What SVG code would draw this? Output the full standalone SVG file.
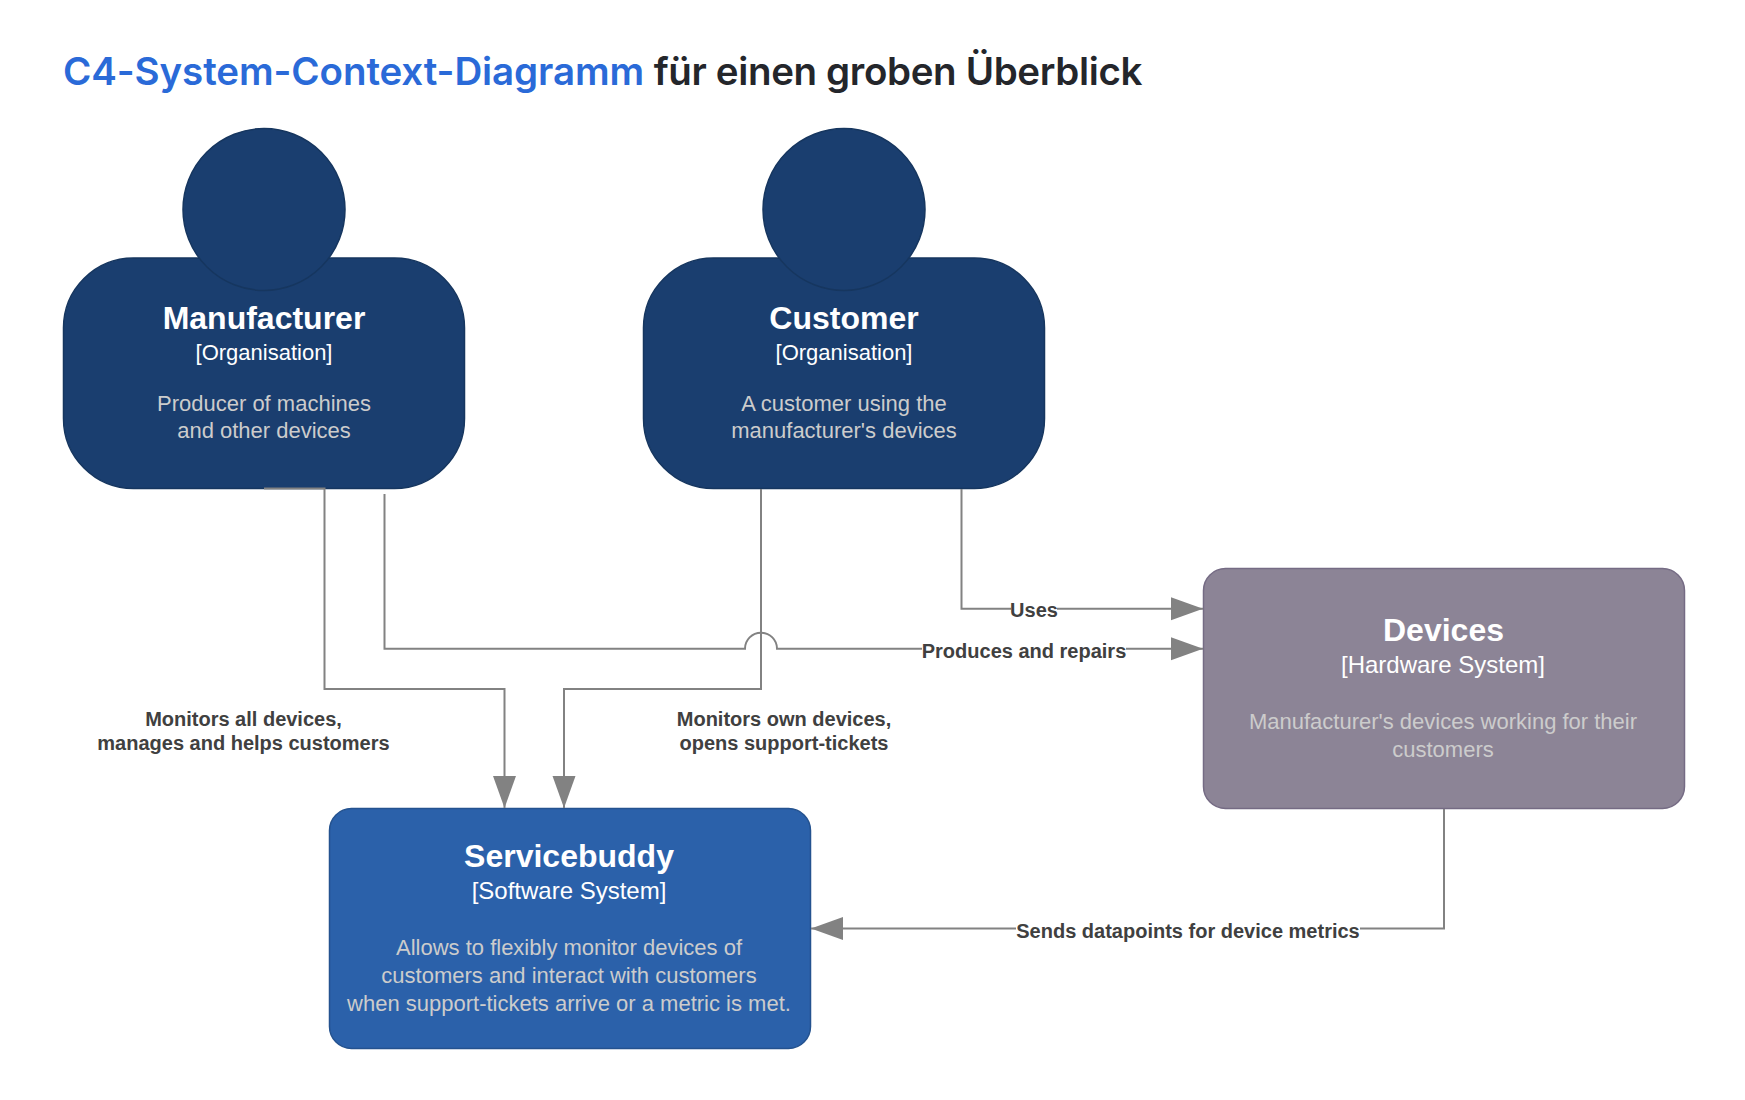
<svg xmlns="http://www.w3.org/2000/svg" width="1745" height="1100" viewBox="0 0 1745 1100">
<style>
text{font-family:"Liberation Sans",Arial,sans-serif;text-anchor:middle}
.name{font-size:32px;font-weight:700;fill:#fff}
.kind{font-size:22px;fill:#fff}
.kind2{font-size:24px;fill:#fff}
.desc{font-size:22px;fill:#ccc}
.lbl{font-size:20px;font-weight:700;fill:#404040}
.bg{fill:#fff}
.line{fill:none;stroke:#828282;stroke-width:2}
.person{fill:#1a3e6f;stroke:#16365f;stroke-width:1.5}
</style>
<defs>
<marker id="arrow" markerUnits="userSpaceOnUse" markerWidth="33" markerHeight="24" refX="32" refY="11.500" orient="auto"><path d="M0 0L32 11.500L0 23Z" fill="#828282"/></marker>
</defs>
<rect width="1745" height="1100" fill="#fff"/>
<text id="title" x="63" y="85" style="text-anchor:start;font-family:Inter,sans-serif;font-size:38.5px;font-weight:600;letter-spacing:-0.1px" fill="#24262b"><tspan fill="#2a6ad8">C4-System-Context-Diagramm</tspan> <tspan letter-spacing="-0.35">für einen groben Überblick</tspan></text>
<g id="manufacturer">
<rect class="person" x="63.500" y="258" width="401" height="230.500" rx="70"/>
<circle class="person" cx="264" cy="209.500" r="81"/>
<text class="name" x="264" y="329">Manufacturer</text>
<text class="kind" x="264" y="359.500">[Organisation]</text>
<text class="desc" x="264" y="411">Producer of machines</text>
<text class="desc" x="264" y="437.500">and other devices</text>
</g>
<g id="customer">
<rect class="person" x="643.500" y="258" width="401" height="230.500" rx="70"/>
<circle class="person" cx="844" cy="209.500" r="81"/>
<text class="name" x="844" y="329">Customer</text>
<text class="kind" x="844" y="359.500">[Organisation]</text>
<text class="desc" x="844" y="411">A customer using the</text>
<text class="desc" x="844" y="437.500">manufacturer's devices</text>
</g>
<g id="servicebuddy">
<rect x="329.500" y="808.500" width="481" height="240" rx="22" fill="#2b61aa" stroke="#24528f" stroke-width="1.500"/>
<text class="name" x="569" y="867">Servicebuddy</text>
<text class="kind2" x="569" y="899">[Software System]</text>
<text class="desc" x="569" y="955">Allows to flexibly monitor devices of</text>
<text class="desc" x="569" y="983">customers and interact with customers</text>
<text class="desc" x="569" y="1011">when support-tickets arrive or a metric is met.</text>
</g>
<g id="devices">
<rect x="1203.500" y="568.500" width="481" height="240" rx="22" fill="#8c8496" stroke="#756b84" stroke-width="1.500"/>
<text class="name" x="1443.500" y="641">Devices</text>
<text class="kind2" x="1443" y="673">[Hardware System]</text>
<text class="desc" x="1443" y="729">Manufacturer's devices working for their</text>
<text class="desc" x="1443" y="757">customers</text>
</g>
<g id="connectors">
<path class="line" marker-end="url(#arrow)" d="M264 488.500H324.500V689H504.500V808"/>
<path class="line" marker-end="url(#arrow)" d="M384.500 494V648.700H745A16 16 0 0 1 777 648.700H1203"/>
<path class="line" marker-end="url(#arrow)" d="M761 489V689H564V808"/>
<path class="line" marker-end="url(#arrow)" d="M961.500 489V608.700H1203"/>
<path class="line" marker-end="url(#arrow)" d="M1444 809V928.500H811"/>
</g>
<g id="edge-labels">
<rect class="bg" x="1011" y="598" width="46" height="24"/>
<text class="lbl" x="1034" y="617">Uses</text>
<rect class="bg" x="922" y="638" width="204" height="24"/>
<text class="lbl" x="1024" y="657.500">Produces and repairs</text>
<text class="lbl" x="243.500" y="725.500">Monitors all devices,</text>
<text class="lbl" x="243.500" y="749.500">manages and helps customers</text>
<text class="lbl" x="784" y="725.500">Monitors own devices,</text>
<text class="lbl" x="784" y="749.500">opens support-tickets</text>
<rect class="bg" x="1016" y="918" width="344" height="24"/>
<text class="lbl" x="1188" y="937.500">Sends datapoints for device metrics</text>
</g>
</svg>
